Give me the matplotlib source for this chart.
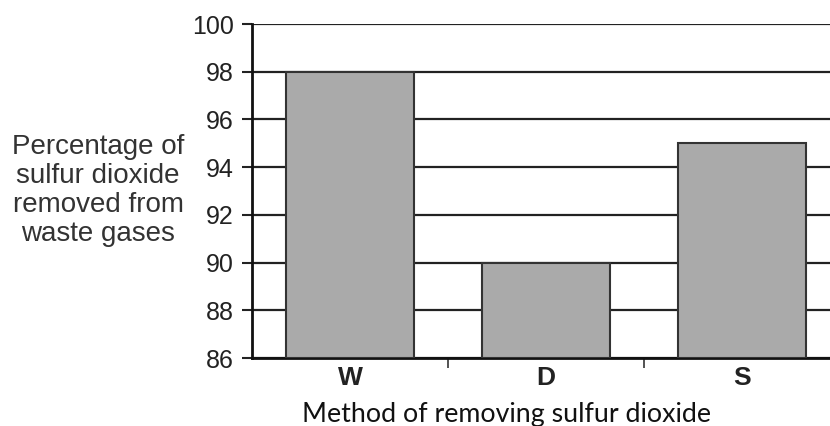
import matplotlib
matplotlib.use("Agg")
import matplotlib.pyplot as plt
import numpy as np

categories = ["W", "D", "S"]
values = [98, 90, 95]
yticks = [86, 88, 90, 92, 94, 96, 98, 100]
ylabel = "Percentage of\nsulfur dioxide\nremoved from\nwaste gases"
xlabel = "Method of removing sulfur dioxide"

W, H = 830, 426
fig = plt.figure(figsize=(W / 100, H / 100), dpi=100)
fig.patch.set_facecolor("white")
ax = fig.add_axes([252 / W, 68 / H, 578 / W, 334 / H])

x = np.arange(len(categories))
ax.bar(x, [v - 86 for v in values], bottom=86, width=0.65, color="#aaaaaa",
       edgecolor="#333333", linewidth=1.5, zorder=3)

ax.set_ylim(86, 100)
ax.set_xlim(-0.5, 2.449)
ax.set_yticks(yticks)
ax.set_yticklabels([str(t) for t in yticks], fontsize=18, family="Liberation Sans", color="#222222")
ax.yaxis.grid(True, color="#222222", linewidth=1.6, zorder=0)
ax.set_axisbelow(True)

ax.set_xticks(x)
ax.set_xticklabels(categories, fontsize=19, fontweight="bold", family="Liberation Sans", color="#222222")
ax.set_xticks([0.5, 1.5], minor=True)
ax.tick_params(axis="x", which="major", length=0, pad=6)
ax.tick_params(axis="x", which="minor", length=7, width=1.3, direction="out", color="#444444")
ax.tick_params(axis="y", length=7, width=1.5, pad=6, color="#222222")

for s in ["top", "right"]:
    ax.spines[s].set_visible(False)
for s in ["left", "bottom"]:
    ax.spines[s].set_linewidth(2)
    ax.spines[s].set_color("#111111")

fig.text(98 / W, 1 - 191 / H, ylabel, ha="center", va="center", fontsize=20,
         family="Liberation Sans", color="#333333", linespacing=1.15, multialignment="center")
fig.text(506 / W, (H - 422) / H, xlabel, ha="center", va="baseline", fontsize=19.3,
         family="Lato", color="#111111")

fig.savefig("out.png", dpi=100, facecolor="white")
